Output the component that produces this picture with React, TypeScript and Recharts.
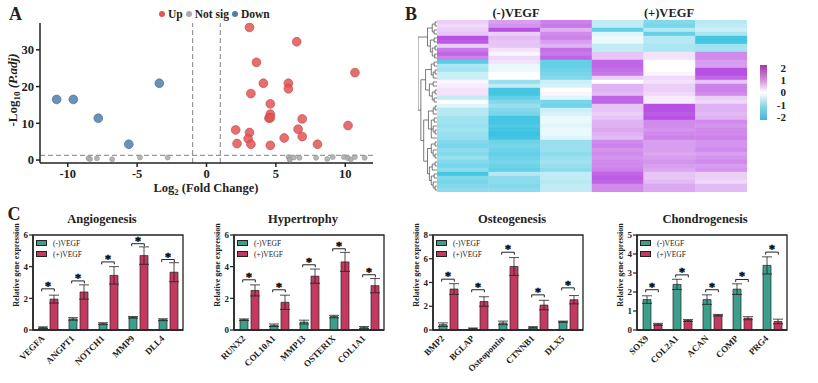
import React from 'react';
import {
  ScatterChart, Scatter, XAxis, YAxis, ReferenceLine, Legend, BarChart, Bar, Cell,
  ComposedChart, ErrorBar, ReferenceArea,
} from 'recharts';

const SERIF = '"Liberation Serif", "Times New Roman", Times, serif';
const INK = '#222';

// ---------------- Panel A: volcano ----------------
const volcanoUp = [
  { fc: 3.1, p: 36.1 }, { fc: 6.5, p: 32.2 }, { fc: 3.6, p: 26.6 }, { fc: 10.7, p: 23.8 },
  { fc: 4.1, p: 20.9 }, { fc: 5.9, p: 20.9 }, { fc: 5.9, p: 19.4 }, { fc: 3.2, p: 18.1 },
  { fc: 4.6, p: 15.3 }, { fc: 4.6, p: 12.5 }, { fc: 4.5, p: 11.4 }, { fc: 4.6, p: 11.5 },
  { fc: 6.9, p: 11.2 }, { fc: 10.2, p: 9.4 }, { fc: 2.1, p: 8.2 }, { fc: 3.1, p: 7.5 },
  { fc: 6.6, p: 8.4 }, { fc: 6.9, p: 6.4 }, { fc: 3.0, p: 5.8 }, { fc: 5.6, p: 6.0 },
  { fc: 2.2, p: 4.5 }, { fc: 3.2, p: 4.3 }, { fc: 4.6, p: 4.0 }, { fc: 8.0, p: 4.3 },
];
const volcanoDown = [
  { fc: -10.8, p: 16.5 }, { fc: -9.6, p: 16.5 }, { fc: -7.8, p: 11.4 },
  { fc: -3.4, p: 20.9 }, { fc: -5.6, p: 4.3 },
];
const volcanoNotSig = [
  { fc: -8.5, p: 0.5 }, { fc: -8.4, p: 0.3 }, { fc: -7.9, p: 0.5 }, { fc: -6.8, p: 0.2 },
  { fc: -4.8, p: 0.7 }, { fc: -2.8, p: 0.7 }, { fc: 5.9, p: 0.8 }, { fc: 6.0, p: 0.3 },
  { fc: 6.0, p: 0.1 }, { fc: 6.3, p: 0.7 }, { fc: 6.7, p: 0.6 }, { fc: 7.9, p: 0.6 },
  { fc: 8.7, p: 0.3 }, { fc: 9.1, p: 0.8 }, { fc: 9.9, p: 0.8 }, { fc: 10.2, p: 0.5 },
  { fc: 10.4, p: 0.2 }, { fc: 10.7, p: 0.8 }, { fc: 11.4, p: 0.6 },
];
const volcanoOrder = ['Up', 'Not sig', 'Down'];
const fcTicks = [-10, -5, 0, 5, 10];
const padjTicks = [0, 10, 20, 30];
const fcCuts = [-1, 1];
const padjCut = 1.3;

// ---------------- Panel B: heatmap ----------------
const heatGroups = ['(-)VEGF', '(+)VEGF'];
const heatSamples = ['N1', 'N2', 'N3', 'P1', 'P2', 'P3'];
const heatRows: number[][] = [
  [0.5, 1.0, 1.3, -0.6, -1.2, -0.7],
  [0.4, 1.1, 1.4, -0.6, -1.3, -0.6],
  [0.5, 1.8, 0.8, -1.5, -0.7, -0.5],
  [0.6, 0.5, 1.2, -0.3, -1.5, -0.8],
  [1.8, 0.7, 1.3, -0.2, -0.7, -1.8],
  [1.7, 0.6, 1.0, -0.2, -0.7, -1.8],
  [0.5, 0.6, 0.8, -0.6, -0.8, -0.9],
  [1.4, 0.3, 1.5, -0.6, -0.8, -0.9],
  [1.6, 0.1, 1.4, 0.6, 0.3, 1.2],
  [1.3, 0.4, 1.6, 0.6, 0.3, 1.2],
  [-1.6, 0.3, -1.5, 1.6, 0.0, 1.0],
  [-0.8, -0.2, -1.5, 1.6, 0.0, 1.0],
  [-0.9, -0.2, -1.4, 1.5, 0.0, 1.8],
  [-0.5, 0.0, -1.3, 1.4, 0.1, 1.8],
  [-0.5, 0.0, -1.2, 0.5, 0.4, 1.6],
  [0.1, -1.0, -0.5, 0.0, 0.3, 0.6],
  [0.2, -0.6, -0.4, 0.8, 0.5, 1.3],
  [0.3, -1.8, 0.0, 0.8, 0.5, 1.3],
  [0.3, -1.8, 0.1, 0.7, 0.4, 1.2],
  [-0.6, -1.5, -0.3, 1.6, 0.2, 0.5],
  [0.0, -1.2, -1.3, 1.6, 0.2, 0.4],
  [-0.3, -1.0, -1.4, 0.6, 1.8, 0.8],
  [-0.7, -1.2, -0.5, 0.6, 1.8, 0.8],
  [-0.7, -1.3, -0.4, 0.5, 1.7, 0.7],
  [-0.9, -1.8, -0.2, 0.6, 1.8, 0.8],
  [-0.9, -1.8, -0.2, 0.8, 1.2, 1.2],
  [-1.0, -1.7, -0.3, 0.8, 1.2, 1.1],
  [-0.9, -1.8, -0.2, 0.9, 1.1, 1.2],
  [-1.0, -1.9, -0.2, 0.8, 1.2, 1.2],
  [-1.0, -1.8, -0.3, 0.7, 1.3, 1.3],
  [-1.2, -1.4, -1.0, 1.2, 1.0, 1.1],
  [-1.3, -1.3, -1.0, 1.3, 1.0, 1.1],
  [-1.1, -1.4, -1.0, 1.1, 1.0, 1.2],
  [-1.2, -1.5, -1.1, 1.2, 0.9, 1.0],
  [-1.0, -1.4, -1.0, 1.1, 1.0, 1.1],
  [-1.2, -1.3, -0.9, 1.2, 1.1, 1.2],
  [-1.3, -1.4, -1.0, 1.2, 1.0, 1.0],
  [-1.1, -1.5, -1.1, 1.3, 0.9, 1.1],
  [-1.8, -0.7, -0.6, 1.6, 0.6, 0.5],
  [-1.2, -1.1, -0.6, 1.7, 0.6, 0.5],
  [-1.3, -1.1, -0.7, 1.6, 0.7, 0.4],
  [-1.2, -1.2, -0.6, 1.2, 0.9, 0.7],
  [-1.1, -1.1, -0.6, 1.2, 0.9, 0.7],
];
// dendrogram: [height, ...children]; leaves are row indices
const heatTree: any = [10,
  [5, [2.5, [1, 0, 1], [1.5, 2, 3]], [3.5, [1.5, 4, 5], [2.5, [1, 6, 7], [1.2, 8, 9]]]],
  [8.5,
    [6, [3, [1.5, 10, 11], [2, [1, 12, 13], 14]], [4, [2, 15, 16], [2.5, [1, 17, 18], [1.5, 19, 20]]]],
    [7,
      [4.5, [2, [1, 21, 22], 23], [3, [1.5, 24, 25], [2, 26, [1, 27, 28]], 29]],
      [5, [3, [1, 30, 31], [2, 32, [1, 33, 34]]], [4, [2.5, [1, 35, 36], 37], [3, [1.5, 38, 39], [2, 40, [1, 41, 42]]]]],
    ],
  ],
];
const scaleTicks = [-2, -1, 0, 1, 2];
const scaleRange = [-2.27, 2.27];

// ---------------- Panel C: qPCR bars ----------------
const angioGenes = ['VEGFA', 'ANGPT1', 'NOTCH1', 'MMP9', 'DLL4'];
const angioMinus = [0.15, 0.7, 0.4, 0.8, 0.65];
const angioMinusErr = [0.05, 0.08, 0.06, 0.05, 0.06];
const angioPlus = [1.95, 2.4, 3.45, 4.7, 3.65];
const angioPlusErr = [0.25, 0.45, 0.55, 0.55, 0.6];
const angioSig = [2.6, 3.1, 4.3, 5.45, 4.45];

const hyperGenes = ['RUNX2', 'COL10A1', 'MMP13', 'OSTERIX', 'COL1A1'];
const hyperMinus = [0.65, 0.3, 0.5, 0.85, 0.15];
const hyperMinusErr = [0.05, 0.08, 0.12, 0.08, 0.07];
const hyperPlus = [2.5, 1.75, 3.4, 4.3, 2.8];
const hyperPlusErr = [0.35, 0.45, 0.45, 0.6, 0.45];
const hyperSig = [3.17, 2.54, 4.12, 5.13, 3.49];

const osteoGenes = ['BMP2', 'BGLAP', 'Osteopontin', 'CTNNB1', 'DLX5'];
const osteoMinus = [0.45, 0.12, 0.6, 0.22, 0.7];
const osteoMinusErr = [0.15, 0.05, 0.15, 0.06, 0.05];
const osteoPlus = [3.45, 2.4, 5.35, 2.1, 2.55];
const osteoPlusErr = [0.45, 0.4, 0.75, 0.4, 0.35];
const osteoSig = [4.28, 3.39, 6.55, 2.96, 3.55];

const chondroGenes = ['SOX9', 'COL2A1', 'ACAN', 'COMP', 'PRG4'];
const chondroMinus = [1.6, 2.4, 1.6, 2.15, 3.4];
const chondroMinusErr = [0.2, 0.27, 0.25, 0.28, 0.45];
const chondroPlus = [0.3, 0.5, 0.78, 0.62, 0.45];
const chondroPlusErr = [0.05, 0.05, 0.04, 0.08, 0.12];
const chondroSig = [2.12, 2.9, 2.12, 2.66, 4.1];

const barSeries = ['(-)VEGF', '(+)VEGF'];
const GREEN = '#3d9e89';
const RED = '#c4395f';

// ---------------- helpers ----------------
const HI = [176, 62, 224];
const LO = [48, 192, 224];
function heatColor(v: number) {
  const t = Math.max(-2, Math.min(2, v)) / 2;
  const target = t < 0 ? LO : HI;
  const a = Math.abs(t);
  const c = [255, 255, 255].map((m, i) => Math.round(m + (target[i] - m) * a));
  return `rgb(${c[0]},${c[1]},${c[2]})`;
}

function layoutTree(node: any, segs: any[]): { y: number; h: number } {
  if (typeof node === 'number') return { y: node + 0.5, h: 0 };
  const [h, ...kids] = node;
  const pts = kids.map((k: any) => layoutTree(k, segs));
  const ys = pts.map((p: any) => p.y);
  const y0 = Math.min(...ys);
  const y1 = Math.max(...ys);
  segs.push([{ x: h, y: y0 }, { x: h, y: y1 }]);
  pts.forEach((p: any) => segs.push([{ x: p.h, y: p.y }, { x: h, y: p.y }]));
  return { y: (y0 + y1) / 2, h };
}

const axisLineStyle = { stroke: INK, strokeWidth: 1.5 };

function makeDot(r: number, fill: string, stroke: string) {
  return (p: any) =>
    p.cx == null ? <g /> : (
      <circle cx={p.cx} cy={p.cy} r={r} fill={fill} fillOpacity={0.85} stroke={stroke} strokeWidth={0.6} />
    );
}

function orderBy(payload: any[], order: string[]) {
  return (payload || [])
    .filter((e: any) => order.indexOf(e.value) >= 0)
    .sort((a: any, b: any) => order.indexOf(a.value) - order.indexOf(b.value));
}

const VolcanoLegend = (props: any) => (
  <div style={{ display: 'flex', alignItems: 'center', fontFamily: SERIF, fontWeight: 700, fontSize: 11.5, color: INK, whiteSpace: 'nowrap' }}>
    {orderBy(props.payload, volcanoOrder).map((e: any) => (
      <span key={e.value} style={{ display: 'flex', alignItems: 'center', marginRight: 3 }}>
        <span style={{ display: 'inline-block', width: 6, height: 6, borderRadius: 3, background: e.color, marginRight: 3 }} />
        {e.value}
      </span>
    ))}
  </div>
);

function Volcano() {
  return (
    <ScatterChart width={382} height={196} margin={{ top: 23, right: 9, bottom: 0, left: 12 }}>
      <XAxis type="number" dataKey="fc" domain={[-12, 12]} ticks={fcTicks} height={33} allowDataOverflow
        axisLine={axisLineStyle} tickLine={axisLineStyle} tickSize={4}
        tick={{ fill: INK, fontSize: 12.5, fontWeight: 700, fontFamily: SERIF }} />
      <YAxis type="number" dataKey="p" domain={[-0.8, 37.3]} ticks={padjTicks} width={28} allowDataOverflow
        axisLine={axisLineStyle} tickLine={axisLineStyle} tickSize={4}
        tick={{ fill: INK, fontSize: 12.5, fontWeight: 700, fontFamily: SERIF }} />
      {fcCuts.map((c) => (
        <ReferenceLine key={c} x={c} stroke="#999" strokeDasharray="5 3" strokeWidth={1.2} />
      ))}
      <ReferenceLine y={padjCut} stroke="#999" strokeDasharray="5 3" strokeWidth={1.2} />
      <Scatter name="Up" data={volcanoUp} fill="#e05555" shape={makeDot(4.4, '#e05555', '#c44040')} isAnimationActive={false} />
      <Scatter name="Not sig" data={volcanoNotSig} fill="#aaaaaa" shape={makeDot(2.5, '#a8a8a8', '#999')} isAnimationActive={false} />
      <Scatter name="Down" data={volcanoDown} fill="#4f7fae" shape={makeDot(4.4, '#4f7fae', '#3e6a96')} isAnimationActive={false} />
      <Legend layout="horizontal" verticalAlign="middle" align="center"
        wrapperStyle={{ top: 8, left: 159, width: 140 }} content={VolcanoLegend} />
    </ScatterChart>
  );
}

const unitKeys = heatSamples.map(() => (_d: any) => 1);

function Heatmap() {
  const data = heatRows.map((v, i) => ({ row: `g${i + 1}`, v }));
  return (
    <BarChart layout="vertical" width={310} height={172} data={data}
      margin={{ top: 0, right: 0, bottom: 0, left: 0 }} barCategoryGap={0}>
      <XAxis type="number" hide domain={[0, heatSamples.length]} />
      <YAxis type="category" dataKey="row" hide />
      {heatSamples.map((s, c) => (
        <Bar key={s} name={s} dataKey={unitKeys[c]} stackId="heat" isAnimationActive={false}>
          {data.map((d, i) => (
            <Cell key={i} fill={heatColor(d.v[c])} stroke={heatColor(d.v[c])} strokeWidth={0.4} />
          ))}
        </Bar>
      ))}
    </BarChart>
  );
}

function Dendrogram() {
  const segs: any[] = [];
  layoutTree(heatTree, segs);
  const leaves = heatRows.map((_, i) => ({ h: 0, y: i + 0.5 }));
  return (
    <ScatterChart width={19} height={172} margin={{ top: 0, right: 0, bottom: 0, left: 0 }}>
      <XAxis type="number" dataKey="h" hide domain={[0, 10]} reversed />
      <YAxis type="number" dataKey="y" hide domain={[0, heatRows.length]} reversed />
      <Scatter data={leaves} shape={() => <g />} isAnimationActive={false} />
      {segs.map((s, i) => (
        <ReferenceLine key={i} segment={s} stroke="#444" strokeWidth={0.7} ifOverflow="visible" />
      ))}
    </ScatterChart>
  );
}

const ScaleTick = (p: any) => (
  <text x={p.x + 11} y={p.y} dy="0.36em" textAnchor="end" fontSize={11} fontWeight={700} fontFamily={SERIF} fill={INK}>
    {p.payload.value}
  </text>
);

function ColorScale() {
  return (
    <BarChart width={30} height={65} data={[{ k: 'z', r: scaleRange }]} margin={{ top: 5, right: 0, bottom: 5, left: 0 }} barCategoryGap={0}>
      <defs>
        <linearGradient id="zgrad" x1="0" y1="0" x2="0" y2="1">
          <stop offset="0%" stopColor="#a23aa6" />
          <stop offset="25%" stopColor="#cf86d6" />
          <stop offset="50%" stopColor="#ffffff" />
          <stop offset="75%" stopColor="#8fd3e6" />
          <stop offset="100%" stopColor="#3fb6d6" />
        </linearGradient>
      </defs>
      <XAxis dataKey="k" hide />
      <YAxis orientation="right" domain={scaleRange} ticks={scaleTicks} interval={0} width={23} axisLine={false} tickLine={false} tick={ScaleTick} />
      <Bar dataKey="r" fill="url(#zgrad)" isAnimationActive={false} />
    </BarChart>
  );
}

const GeneTick = (props: any) => {
  const { x, y, payload } = props;
  const ax = x - 3;
  const ay = y + 7;
  return (
    <text x={ax} y={ay} transform={`rotate(-45 ${ax} ${ay})`} textAnchor="end" fontSize={9} fontWeight={700} fontFamily={SERIF} fill={INK}>
      {payload.value}
    </text>
  );
};

const Bracket = (props: any) => {
  const { cx, cy } = props;
  if (cx == null || cy == null) return <g />;
  const h = 6.3;
  return (
    <g>
      <path d={`M${cx - h},${cy + 2.5}V${cy}H${cx + h}V${cy + 2.5}`} fill="none" stroke={INK} strokeWidth={1} />
      <text x={cx} y={cy + 1} textAnchor="middle" fontSize={13} fontWeight={700} fontFamily={SERIF}
        fill="#000" stroke="#000" strokeWidth={0.3} style={{ fill: '#000' }}>*</text>
    </g>
  );
};

const BarLegend = (props: any) => (
  <div style={{ fontFamily: SERIF, fontSize: 7.5, color: INK, lineHeight: '11px', whiteSpace: 'nowrap' }}>
    {orderBy(props.payload, barSeries).map((e: any) => (
      <div key={e.value} style={{ display: 'flex', alignItems: 'center' }}>
        <span style={{ display: 'inline-block', width: 9, height: 4, background: e.color, border: `0.8px solid ${INK}`, marginRight: 6 }} />
        {e.value}
      </div>
    ))}
  </div>
);

type GeneProps = {
  left: number; genes: string[]; minus: number[]; minusErr: number[];
  plus: number[]; plusErr: number[]; sig: number[]; yMax: number; yTicks: number[];
};

function GenePanel(p: GeneProps) {
  const data = p.genes.map((g, i) => ({
    gene: g, minus: p.minus[i], minusErr: p.minusErr[i], plus: p.plus[i], plusErr: p.plusErr[i], sig: p.sig[i],
  }));
  return (
    <div style={{ position: 'absolute', left: p.left, top: 200, width: 200, height: 180 }}>
      <ComposedChart width={200} height={175} data={data} margin={{ top: 35, right: 17, bottom: 0, left: 13 }} barSize={8} barGap={3}>
        <XAxis dataKey="gene" height={45} interval={0} tick={<GeneTick />} tickLine={false} tickSize={0} axisLine={axisLineStyle} />
        <YAxis domain={[0, p.yMax]} ticks={p.yTicks} interval={0} width={20} tickSize={4} tickMargin={1} axisLine={axisLineStyle}
          tickLine={{ stroke: INK, strokeWidth: 1.2 }} tick={{ fontSize: 9, fontWeight: 700, fill: INK, fontFamily: SERIF }} />
        <ReferenceArea y1={0} y2={p.yMax} fill="none" stroke={INK} strokeWidth={1.3} />
        <Bar dataKey="minus" name={barSeries[0]} fill={GREEN} stroke={INK} strokeWidth={0.7} isAnimationActive={false}>
          <ErrorBar dataKey="minusErr" width={5} stroke={INK} strokeWidth={0.8} />
        </Bar>
        <Bar dataKey="plus" name={barSeries[1]} fill={RED} stroke={INK} strokeWidth={0.7} isAnimationActive={false}>
          <ErrorBar dataKey="plusErr" width={5} stroke={INK} strokeWidth={0.8} />
        </Bar>
        <Scatter dataKey="sig" fill={INK} shape={<Bracket />} legendType="none" isAnimationActive={false} />
        <Legend layout="horizontal" verticalAlign="middle" align="center"
          wrapperStyle={{ top: 37.5, left: 36, width: 80 }} content={BarLegend} />
      </ComposedChart>
    </div>
  );
}

const panelC = [
  { left: 0, title: 'Angiogenesis', tx: 102, genes: angioGenes, minus: angioMinus, minusErr: angioMinusErr, plus: angioPlus, plusErr: angioPlusErr, sig: angioSig, yMax: 6, yTicks: [0, 2, 4, 6] },
  { left: 201, title: 'Hypertrophy', tx: 303, genes: hyperGenes, minus: hyperMinus, minusErr: hyperMinusErr, plus: hyperPlus, plusErr: hyperPlusErr, sig: hyperSig, yMax: 6, yTicks: [0, 2, 4, 6] },
  { left: 400, title: 'Osteogenesis', tx: 512, genes: osteoGenes, minus: osteoMinus, minusErr: osteoMinusErr, plus: osteoPlus, plusErr: osteoPlusErr, sig: osteoSig, yMax: 8, yTicks: [0, 2, 4, 6, 8] },
  { left: 604, title: 'Chondrogenesis', tx: 705, genes: chondroGenes, minus: chondroMinus, minusErr: chondroMinusErr, plus: chondroPlus, plusErr: chondroPlusErr, sig: chondroSig, yMax: 5, yTicks: [0, 1, 2, 3, 4, 5] },
];

export default function App() {
  const bold = { fontFamily: SERIF, fontWeight: 700, fill: INK } as any;
  return (
    <div style={{ position: 'absolute', left: 0, top: 0, width: 818, height: 383, background: '#fff', overflow: 'hidden', fontFamily: SERIF }}>
      <div style={{ position: 'absolute', left: 0, top: 0 }}><Volcano /></div>
      <div style={{ position: 'absolute', left: 418, top: 20 }}><Dendrogram /></div>
      <div style={{ position: 'absolute', left: 436.7, top: 20 }}><Heatmap /></div>
      <div style={{ position: 'absolute', left: 759.5, top: 60 }}><ColorScale /></div>
      {panelC.map((c) => (
        <GenePanel key={c.title} left={c.left} genes={c.genes} minus={c.minus} minusErr={c.minusErr}
          plus={c.plus} plusErr={c.plusErr} sig={c.sig} yMax={c.yMax} yTicks={c.yTicks} />
      ))}
      <svg width={818} height={383} style={{ position: 'absolute', left: 0, top: 0, pointerEvents: 'none' }}>
        <text x={9} y={20} fontSize={18} {...bold}>A</text>
        <text x={405} y={19.5} fontSize={18} {...bold}>B</text>
        <text x={7.5} y={220} fontSize={18} {...bold}>C</text>
        <text x={206} y={192} fontSize={12.5} textAnchor="middle" {...bold}>
          Log<tspan fontSize={8.5} dy={3}>2</tspan><tspan dy={-3}> (Fold Change)</tspan>
        </text>
        <text transform="translate(16.5,90) rotate(-90)" fontSize={13} textAnchor="middle" {...bold}>
          -Log<tspan fontSize={9} dy={3}>10</tspan><tspan dy={-3}> </tspan><tspan fontStyle="italic">(P.adj)</tspan>
        </text>
        <text x={516} y={17} fontSize={12.5} textAnchor="middle" {...bold}>{heatGroups[0]}</text>
        <text x={669} y={17} fontSize={12.5} textAnchor="middle" {...bold}>{heatGroups[1]}</text>
        {panelC.map((c) => (
          <g key={c.title}>
            <text x={c.tx} y={223} fontSize={12.5} textAnchor="middle" {...bold}>{c.title}</text>
            <text transform={`translate(${c.left + 18.5},265) rotate(-90)`} fontSize={8} textAnchor="middle" {...bold}>Relative gene expression</text>
          </g>
        ))}
      </svg>
    </div>
  );
}
